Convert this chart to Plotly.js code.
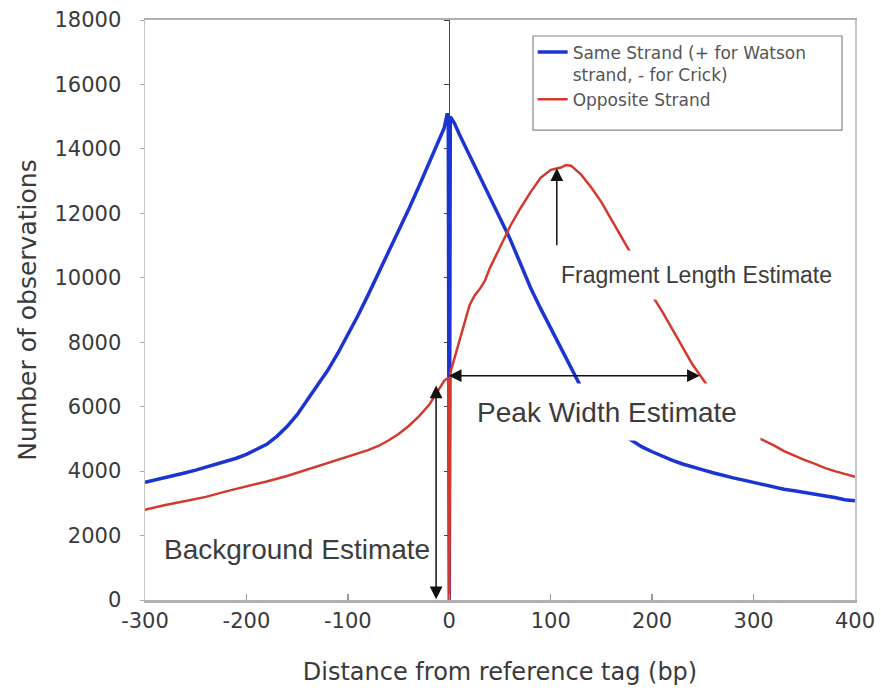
<!DOCTYPE html>
<html>
<head>
<meta charset="utf-8">
<script src="https://cdn.plot.ly/plotly-3.0.1.min.js"></script>
<style>html,body{margin:0;padding:0;background:#fff;}#chart{width:881px;height:690px;}</style>
</head>
<body>
<div id="chart"></div>
<script>
// Same strand (+ for Watson strand, - for Crick)
var xSame = [-300,-290,-280,-270,-260,-250,-240,-230,-220,-210,-200,-190,-180,-170,-160,-150,-140,-130,-120,-110,-100,-90,-80,-70,-60,-50,-40,-30,-20,-10,-5,-2,-1,0,1,2,5,10,20,30,40,50,60,70,80,90,100,110,120,130,140,150,160,170,180,190,200,210,220,230,240,250,260,270,280,290,300,310,320,330,340,350,360,370,380,390,400];
var ySame = [3650,3720,3800,3870,3950,4030,4120,4210,4300,4400,4520,4660,4830,5080,5380,5750,6200,6650,7120,7650,8220,8830,9470,10120,10780,11450,12130,12830,13540,14280,14650,15100,15000,0,15000,14950,14800,14450,13800,13200,12550,11850,11200,10450,9700,9050,8450,7800,7200,6600,6150,5750,5400,5150,4950,4750,4600,4450,4330,4220,4120,4040,3950,3860,3790,3720,3650,3560,3500,3440,3390,3340,3290,3240,3180,3110,3080];
// Opposite strand
var xOpp = [-300,-280,-260,-240,-220,-200,-180,-160,-140,-120,-100,-90,-80,-70,-60,-50,-40,-30,-20,-15,-10,-5,-1,0,1,5,10,15,20,25,30,35,40,50,60,70,80,90,100,110,115,120,130,140,150,160,170,180,190,200,210,220,230,240,250,260,270,280,290,300,310,320,330,340,350,360,370,380,390,400];
var yOpp = [2800,2950,3070,3200,3370,3520,3680,3850,4050,4250,4450,4550,4650,4780,4950,5150,5400,5700,6050,6300,6550,6800,6900,0,7050,7500,8050,8600,9150,9450,9650,9900,10300,10950,11600,12150,12650,13100,13350,13420,13500,13480,13200,12800,12350,11800,11250,10700,10100,9450,8950,8400,7850,7300,6850,6400,5950,5600,5300,5100,4950,4800,4620,4480,4350,4230,4100,4000,3900,3820];

var seriesNames = ["Same Strand (+ for Watson<br>strand, - for Crick)", "Opposite Strand"];
var xTicks = [-300,-200,-100,0,100,200,300,400];
var yTicks = [0,2000,4000,6000,8000,10000,12000,14000,16000,18000];

// annotation labels [text, x, y]
var labelFragment = ["Fragment Length Estimate", 244, 10100];
var labelPeak = ["Peak Width Estimate", 155, 5840];
var labelBackground = ["Background Estimate", -150, 1560];
// arrows: [headX, headY, tailX, tailY]
var arrowFragment = [106, 13400, 106, 10960];
var arrowPeak = [247, 6960, -2, 6960];
var arrowBackground = [-13, 20, -13, 6700];

var traces = [
  {x: xSame, y: ySame, type: 'scatter', mode: 'lines', name: seriesNames[0],
   line: {color: '#1c34d2', width: 3.5}},
  {x: xOpp, y: yOpp, type: 'scatter', mode: 'lines', name: seriesNames[1],
   line: {color: '#d23a2e', width: 2.5}}
];

var tickFont = {family: 'DejaVu Sans, Verdana, sans-serif', size: 21, color: '#3a3a3a'};
var noteFont = {family: 'Liberation Sans, Arial, sans-serif', size: 28, color: '#3c3c3c'};

var annotations = [
  {x: labelFragment[1], y: labelFragment[2], xref: 'x', yref: 'y', text: labelFragment[0], showarrow: false,
   font: {family: 'Liberation Sans, Arial, sans-serif', size: 23, color: '#3c3c3c'},
   bgcolor: '#ffffff', width: 285, height: 48, borderpad: 0},
  {x: labelPeak[1], y: labelPeak[2], xref: 'x', yref: 'y', text: labelPeak[0], showarrow: false,
   font: noteFont, bgcolor: '#ffffff', width: 306, height: 56, borderpad: 0},
  {x: labelBackground[1], y: labelBackground[2], xref: 'x', yref: 'y', text: labelBackground[0], showarrow: false,
   font: noteFont},
  {x: arrowFragment[0], y: arrowFragment[1], ax: arrowFragment[2], ay: arrowFragment[3], xref: 'x', yref: 'y', axref: 'x', ayref: 'y',
   text: '', showarrow: true, arrowhead: 2, arrowsize: 1.7, arrowwidth: 1.5, arrowcolor: '#111', standoff: 0},
  {x: arrowPeak[0], y: arrowPeak[1], ax: arrowPeak[2], ay: arrowPeak[3], xref: 'x', yref: 'y', axref: 'x', ayref: 'y',
   text: '', showarrow: true, arrowside: 'end+start', arrowhead: 2, startarrowhead: 2, arrowsize: 1.7, startarrowsize: 1.7,
   arrowwidth: 1.5, arrowcolor: '#111', standoff: 0, startstandoff: 0},
  {x: arrowBackground[0], y: arrowBackground[1], ax: arrowBackground[2], ay: arrowBackground[3], xref: 'x', yref: 'y', axref: 'x', ayref: 'y',
   text: '', showarrow: true, arrowside: 'end+start', arrowhead: 2, startarrowhead: 2, arrowsize: 1.7, startarrowsize: 1.7,
   arrowwidth: 1.5, arrowcolor: '#111', standoff: 0, startstandoff: 0}
];

// legend frame (paper coordinates)
var legendFrame = {x0: 0.5465, x1: 0.9817, y0: 0.8103, y1: 0.9724};

var layout = {
  width: 881, height: 690,
  margin: {l: 145, r: 26, t: 20, b: 90},
  paper_bgcolor: '#ffffff', plot_bgcolor: '#ffffff',
  showlegend: true,
  legend: {x: 0.546, y: 0.975, xanchor: 'left', yanchor: 'top', bgcolor: 'rgba(0,0,0,0)',
    borderwidth: 0, valign: 'top', tracegroupgap: 4,
    font: {family: 'DejaVu Sans, Verdana, sans-serif', size: 17, color: '#555'}},
  shapes: [
    {type: 'rect', xref: 'paper', yref: 'paper', x0: legendFrame.x0, x1: legendFrame.x1, y0: legendFrame.y0, y1: legendFrame.y1,
     line: {color: '#888', width: 1.2}, fillcolor: '#ffffff', layer: 'above'}
  ],
  xaxis: {range: [-300, 400], tickvals: xTicks, ticktext: xTicks.map(String), showgrid: false, zeroline: false,
    showline: true, linecolor: '#b0b0b0', linewidth: 2.5, mirror: true, ticks: 'inside', ticklen: 6, tickwidth: 1.5, tickcolor: '#999',
    tickfont: tickFont, ticklabelstandoff: 0,
    title: {text: 'Distance from reference tag (bp)', font: {family: 'DejaVu Sans, Verdana, sans-serif', size: 24, color: '#3a3a3a'}, standoff: 32}},
  yaxis: {range: [0, 18000], tickvals: yTicks, ticktext: yTicks.map(String), showgrid: false, zeroline: false,
    showline: true, linecolor: '#c4c4c4', linewidth: 1.5, mirror: true, ticks: 'outside', ticklen: 4, tickcolor: '#aaa',
    tickfont: tickFont, ticklabelstandoff: 14,
    title: {text: 'Number of observations', font: {family: 'DejaVu Sans, Verdana, sans-serif', size: 25, color: '#3a3a3a'}, standoff: 10}},
  yaxis2: {range: [0, 18000], overlaying: 'y', anchor: 'free', position: 300/700, side: 'left',
    tickvals: yTicks, showticklabels: false, showgrid: false, zeroline: false, showline: true, linecolor: '#444', linewidth: 1,
    ticks: 'outside', ticklen: 5, tickcolor: '#444', layer: 'below traces'},
  annotations: annotations
};

// a tiny invisible trace to activate yaxis2
traces.push({x: [xTicks[0]], y: [yTicks[0]], yaxis: 'y2', type: 'scatter', mode: 'markers', marker: {opacity: 0}, showlegend: false, hoverinfo: 'skip'});

Plotly.newPlot('chart', traces, layout, {displayModeBar: false, staticPlot: true});
</script>
</body>
</html>
